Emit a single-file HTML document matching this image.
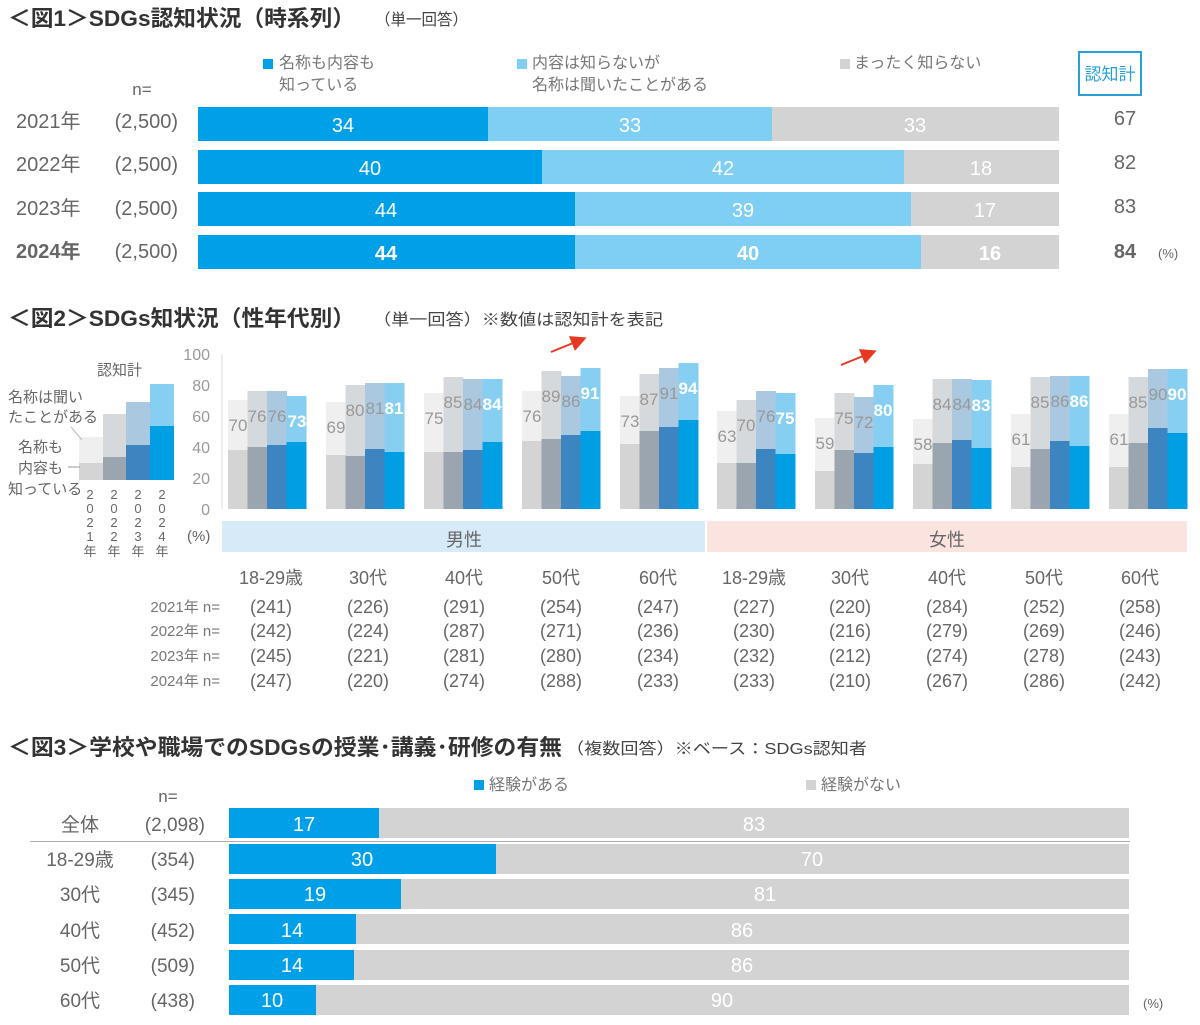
<!DOCTYPE html>
<html><head><meta charset="utf-8"><style>
html,body{margin:0;padding:0;background:#fff;}
svg{display:block;font-family:"Liberation Sans","Noto Sans CJK JP",sans-serif;}
</style></head><body>
<svg width="1200" height="1025" viewBox="0 0 1200 1025" xmlns="http://www.w3.org/2000/svg">
<defs><marker id="ar" markerWidth="8" markerHeight="8" refX="6" refY="4" orient="auto"><path d="M0,0 L8,4 L0,8 z" fill="#e8381f"/></marker></defs>
<!-- Fig 1 -->
<text x="8" y="26" font-size="22" font-weight="bold" fill="#333" textLength="347" lengthAdjust="spacingAndGlyphs">＜図1＞SDGs認知状況（時系列）</text>
<text x="375" y="25" font-size="16" fill="#444" textLength="93" lengthAdjust="spacingAndGlyphs">（単一回答）</text>
<rect x="263" y="59" width="10" height="10" fill="#00a0e9"/>
<text x="279" y="68" font-size="16" fill="#777">名称も内容も</text><text x="279" y="90" font-size="16" fill="#777">知っている</text>
<rect x="517" y="59" width="10" height="10" fill="#7fcef4"/>
<text x="532" y="68" font-size="16" fill="#777">内容は知らないが</text><text x="532" y="90" font-size="16" fill="#777">名称は聞いたことがある</text>
<rect x="840" y="59" width="10" height="10" fill="#d3d3d3"/>
<text x="854" y="68" font-size="16" fill="#777">まったく知らない</text>
<rect x="1079" y="52" width="62" height="43" fill="none" stroke="#29a0d8" stroke-width="2"/>
<text x="1110" y="80" font-size="17" fill="#29a0d8" text-anchor="middle">認知計</text>
<text x="142" y="95" font-size="17" fill="#666" text-anchor="middle">n=</text>
<g font-size="20" fill="#666">
<text x="16" y="128">2021年</text><text x="178" y="128" text-anchor="end">(2,500)</text>
<text x="16" y="171">2022年</text><text x="178" y="171" text-anchor="end">(2,500)</text>
<text x="16" y="215">2023年</text><text x="178" y="215" text-anchor="end">(2,500)</text>
<text x="16" y="258" font-weight="bold">2024年</text><text x="178" y="258" text-anchor="end">(2,500)</text>
</g>
<rect x="198" y="107" width="290" height="34" fill="#00a0e9"/><rect x="488" y="107" width="284" height="34" fill="#7fcef4"/><rect x="772" y="107" width="287" height="34" fill="#d3d3d3"/>
<rect x="198" y="150" width="344" height="34" fill="#00a0e9"/><rect x="542" y="150" width="362" height="34" fill="#7fcef4"/><rect x="904" y="150" width="155" height="34" fill="#d3d3d3"/>
<rect x="198" y="192" width="377" height="34" fill="#00a0e9"/><rect x="575" y="192" width="336" height="34" fill="#7fcef4"/><rect x="911" y="192" width="148" height="34" fill="#d3d3d3"/>
<rect x="198" y="235" width="377" height="34" fill="#00a0e9"/><rect x="575" y="235" width="346" height="34" fill="#7fcef4"/><rect x="921" y="235" width="138" height="34" fill="#d3d3d3"/>
<g font-size="20" fill="#fff" text-anchor="middle">
<text x="343" y="132">34</text><text x="630" y="132">33</text><text x="915" y="132">33</text>
<text x="370" y="175">40</text><text x="723" y="175">42</text><text x="981" y="175">18</text>
<text x="386" y="217">44</text><text x="743" y="217">39</text><text x="985" y="217">17</text>
<g font-weight="bold"><text x="386" y="260">44</text><text x="748" y="260">40</text><text x="990" y="260">16</text></g>
</g>
<g font-size="20" fill="#666" text-anchor="middle">
<text x="1125" y="125">67</text><text x="1125" y="169">82</text><text x="1125" y="213">83</text><text x="1125" y="258" font-weight="bold">84</text>
</g>
<text x="1158" y="258" font-size="13" fill="#666">(%)</text>

<!-- Fig 2 -->
<text x="8" y="326" font-size="22" font-weight="bold" fill="#333" textLength="347" lengthAdjust="spacingAndGlyphs">＜図2＞SDGs知状況（性年代別）</text>
<text x="373" y="325" font-size="16" fill="#444" textLength="290" lengthAdjust="spacingAndGlyphs">（単一回答）※数値は認知計を表記</text>
<line x1="551" y1="352" x2="583" y2="339" stroke="#e8381f" stroke-width="2" marker-end="url(#ar)"/>
<line x1="841" y1="365" x2="873" y2="352" stroke="#e8381f" stroke-width="2" marker-end="url(#ar)"/>
<g font-size="16" fill="#999" text-anchor="end">
<text x="210" y="360">100</text><text x="210" y="391">80</text><text x="210" y="422">60</text><text x="210" y="453">40</text><text x="210" y="484">20</text><text x="210" y="515">0</text>
</g>
<line x1="222" y1="354" x2="222" y2="509" stroke="#ddd"/>
<text x="187" y="541" font-size="15" fill="#666">(%)</text>
<!-- mini legend -->
<rect x="79" y="437" width="24" height="43" fill="#efefef"/><rect x="79" y="463" width="24" height="17" fill="#d4d4d4"/>
<rect x="103" y="414" width="23" height="66" fill="#d6d9dc"/><rect x="103" y="457" width="23" height="23" fill="#9aa5b0"/>
<rect x="126" y="402" width="24" height="78" fill="#aac8e0"/><rect x="126" y="445" width="24" height="35" fill="#3d85c0"/>
<rect x="150" y="384" width="24" height="96" fill="#86cff3"/><rect x="150" y="426" width="24" height="54" fill="#009fe3"/>
<g font-size="15" fill="#666">
<text x="97" y="375">認知計</text>
<text x="8" y="402">名称は聞い</text><text x="8" y="422">たことがある</text>
<text x="18" y="452">名称も</text><text x="18" y="473">内容も</text><text x="8" y="494">知っている</text>
</g>
<line x1="68" y1="467" x2="80" y2="467" stroke="#999"/>
<line x1="71" y1="427" x2="82" y2="440" stroke="#bbb"/>
<g font-size="13" fill="#666" text-anchor="middle">
<text x="90" y="499">2</text><text x="90" y="513">0</text><text x="90" y="527">2</text><text x="90" y="541">1</text><text x="90" y="556">年</text>
<text x="114" y="499">2</text><text x="114" y="513">0</text><text x="114" y="527">2</text><text x="114" y="541">2</text><text x="114" y="556">年</text>
<text x="138" y="499">2</text><text x="138" y="513">0</text><text x="138" y="527">2</text><text x="138" y="541">3</text><text x="138" y="556">年</text>
<text x="162" y="499">2</text><text x="162" y="513">0</text><text x="162" y="527">2</text><text x="162" y="541">4</text><text x="162" y="556">年</text>
</g>
<g>
<rect x="228" y="400" width="20" height="109" fill="#efefef"/><rect x="228" y="450" width="20" height="59" fill="#d4d4d4"/>
<rect x="247.5" y="391" width="20" height="118" fill="#d6d9dc"/><rect x="247.5" y="447" width="20" height="62" fill="#9aa5b0"/>
<rect x="267" y="391" width="20" height="118" fill="#aac8e0"/><rect x="267" y="445" width="20" height="64" fill="#3d85c0"/>
<rect x="286.5" y="396" width="20" height="113" fill="#86cff3"/><rect x="286.5" y="442" width="20" height="67" fill="#009fe3"/>
<rect x="326" y="402" width="20" height="107" fill="#efefef"/><rect x="326" y="455" width="20" height="54" fill="#d4d4d4"/>
<rect x="345.5" y="385" width="20" height="124" fill="#d6d9dc"/><rect x="345.5" y="456" width="20" height="53" fill="#9aa5b0"/>
<rect x="365" y="383" width="20" height="126" fill="#aac8e0"/><rect x="365" y="449" width="20" height="60" fill="#3d85c0"/>
<rect x="384.5" y="383" width="20" height="126" fill="#86cff3"/><rect x="384.5" y="452" width="20" height="57" fill="#009fe3"/>
<rect x="424" y="393" width="20" height="116" fill="#efefef"/><rect x="424" y="452" width="20" height="57" fill="#d4d4d4"/>
<rect x="443.5" y="377" width="20" height="132" fill="#d6d9dc"/><rect x="443.5" y="452" width="20" height="57" fill="#9aa5b0"/>
<rect x="463" y="379" width="20" height="130" fill="#aac8e0"/><rect x="463" y="450" width="20" height="59" fill="#3d85c0"/>
<rect x="482.5" y="379" width="20" height="130" fill="#86cff3"/><rect x="482.5" y="442" width="20" height="67" fill="#009fe3"/>
<rect x="522" y="391" width="20" height="118" fill="#efefef"/><rect x="522" y="441" width="20" height="68" fill="#d4d4d4"/>
<rect x="541.5" y="371" width="20" height="138" fill="#d6d9dc"/><rect x="541.5" y="439" width="20" height="70" fill="#9aa5b0"/>
<rect x="561" y="376" width="20" height="133" fill="#aac8e0"/><rect x="561" y="435" width="20" height="74" fill="#3d85c0"/>
<rect x="580.5" y="368" width="20" height="141" fill="#86cff3"/><rect x="580.5" y="431" width="20" height="78" fill="#009fe3"/>
<rect x="620" y="396" width="20" height="113" fill="#efefef"/><rect x="620" y="444" width="20" height="65" fill="#d4d4d4"/>
<rect x="639.5" y="374" width="20" height="135" fill="#d6d9dc"/><rect x="639.5" y="431" width="20" height="78" fill="#9aa5b0"/>
<rect x="659" y="368" width="20" height="141" fill="#aac8e0"/><rect x="659" y="427" width="20" height="82" fill="#3d85c0"/>
<rect x="678.5" y="363" width="20" height="146" fill="#86cff3"/><rect x="678.5" y="420" width="20" height="89" fill="#009fe3"/>
<rect x="717" y="411" width="20" height="98" fill="#efefef"/><rect x="717" y="463" width="20" height="46" fill="#d4d4d4"/>
<rect x="736.5" y="400" width="20" height="109" fill="#d6d9dc"/><rect x="736.5" y="463" width="20" height="46" fill="#9aa5b0"/>
<rect x="756" y="391" width="20" height="118" fill="#aac8e0"/><rect x="756" y="449" width="20" height="60" fill="#3d85c0"/>
<rect x="775.5" y="393" width="20" height="116" fill="#86cff3"/><rect x="775.5" y="454" width="20" height="55" fill="#009fe3"/>
<rect x="815" y="418" width="20" height="91" fill="#efefef"/><rect x="815" y="471" width="20" height="38" fill="#d4d4d4"/>
<rect x="834.5" y="393" width="20" height="116" fill="#d6d9dc"/><rect x="834.5" y="450" width="20" height="59" fill="#9aa5b0"/>
<rect x="854" y="397" width="20" height="112" fill="#aac8e0"/><rect x="854" y="453" width="20" height="56" fill="#3d85c0"/>
<rect x="873.5" y="385" width="20" height="124" fill="#86cff3"/><rect x="873.5" y="447" width="20" height="62" fill="#009fe3"/>
<rect x="913" y="419" width="20" height="90" fill="#efefef"/><rect x="913" y="464" width="20" height="45" fill="#d4d4d4"/>
<rect x="932.5" y="379" width="20" height="130" fill="#d6d9dc"/><rect x="932.5" y="443" width="20" height="66" fill="#9aa5b0"/>
<rect x="952" y="379" width="20" height="130" fill="#aac8e0"/><rect x="952" y="440" width="20" height="69" fill="#3d85c0"/>
<rect x="971.5" y="380" width="20" height="129" fill="#86cff3"/><rect x="971.5" y="448" width="20" height="61" fill="#009fe3"/>
<rect x="1011" y="414" width="20" height="95" fill="#efefef"/><rect x="1011" y="467" width="20" height="42" fill="#d4d4d4"/>
<rect x="1030.5" y="377" width="20" height="132" fill="#d6d9dc"/><rect x="1030.5" y="449" width="20" height="60" fill="#9aa5b0"/>
<rect x="1050" y="376" width="20" height="133" fill="#aac8e0"/><rect x="1050" y="441" width="20" height="68" fill="#3d85c0"/>
<rect x="1069.5" y="376" width="20" height="133" fill="#86cff3"/><rect x="1069.5" y="446" width="20" height="63" fill="#009fe3"/>
<rect x="1109" y="414" width="20" height="95" fill="#efefef"/><rect x="1109" y="467" width="20" height="42" fill="#d4d4d4"/>
<rect x="1128.5" y="377" width="20" height="132" fill="#d6d9dc"/><rect x="1128.5" y="443" width="20" height="66" fill="#9aa5b0"/>
<rect x="1148" y="369" width="20" height="140" fill="#aac8e0"/><rect x="1148" y="428" width="20" height="81" fill="#3d85c0"/>
<rect x="1167.5" y="369" width="20" height="140" fill="#86cff3"/><rect x="1167.5" y="433" width="20" height="76" fill="#009fe3"/>
</g>
<g font-size="17" fill="#999" text-anchor="middle">
<text x="238" y="431">70</text><text x="257" y="422">76</text><text x="277" y="422">76</text>
<text x="336" y="433">69</text><text x="355" y="416">80</text><text x="375" y="414">81</text>
<text x="434" y="424">75</text><text x="453" y="408">85</text><text x="473" y="410">84</text>
<text x="532" y="422">76</text><text x="551" y="402">89</text><text x="571" y="407">86</text>
<text x="630" y="427">73</text><text x="649" y="405">87</text><text x="669" y="399">91</text>
<text x="727" y="442">63</text><text x="746" y="431">70</text><text x="766" y="422">76</text>
<text x="825" y="449">59</text><text x="844" y="424">75</text><text x="864" y="428">72</text>
<text x="923" y="450">58</text><text x="942" y="410">84</text><text x="962" y="410">84</text>
<text x="1021" y="445">61</text><text x="1040" y="408">85</text><text x="1060" y="407">86</text>
<text x="1119" y="445">61</text><text x="1138" y="408">85</text><text x="1158" y="400">90</text>
</g>
<g font-size="17" fill="#fff" font-weight="bold" text-anchor="middle">
<text x="297" y="427">73</text><text x="394" y="414">81</text><text x="492" y="410">84</text><text x="590" y="399">91</text><text x="688" y="394">94</text>
<text x="785" y="424">75</text><text x="883" y="416">80</text><text x="981" y="411">83</text><text x="1079" y="407">86</text><text x="1177" y="400">90</text>
</g>
<rect x="222" y="521" width="483" height="31" fill="#d6eaf8"/>
<rect x="707" y="521" width="480" height="31" fill="#fbe4df"/>
<text x="464" y="546" font-size="18" fill="#666" text-anchor="middle">男性</text>
<text x="947" y="546" font-size="18" fill="#666" text-anchor="middle">女性</text>
<g font-size="18" fill="#666" text-anchor="middle">
<text x="271" y="584">18-29歳</text><text x="368" y="584">30代</text><text x="464" y="584">40代</text><text x="561" y="584">50代</text><text x="658" y="584">60代</text>
<text x="754" y="584">18-29歳</text><text x="850" y="584">30代</text><text x="947" y="584">40代</text><text x="1044" y="584">50代</text><text x="1140" y="584">60代</text>
</g>
<g font-size="15" fill="#777" text-anchor="end">
<text x="220" y="612">2021年 n=</text><text x="220" y="636">2022年 n=</text><text x="220" y="661">2023年 n=</text><text x="220" y="686">2024年 n=</text>
</g>
<g font-size="18" fill="#666" text-anchor="middle">
<text x="271" y="613">(241)</text><text x="368" y="613">(226)</text><text x="464" y="613">(291)</text><text x="561" y="613">(254)</text><text x="658" y="613">(247)</text><text x="754" y="613">(227)</text><text x="850" y="613">(220)</text><text x="947" y="613">(284)</text><text x="1044" y="613">(252)</text><text x="1140" y="613">(258)</text>
<text x="271" y="637">(242)</text><text x="368" y="637">(224)</text><text x="464" y="637">(287)</text><text x="561" y="637">(271)</text><text x="658" y="637">(236)</text><text x="754" y="637">(230)</text><text x="850" y="637">(216)</text><text x="947" y="637">(279)</text><text x="1044" y="637">(269)</text><text x="1140" y="637">(246)</text>
<text x="271" y="662">(245)</text><text x="368" y="662">(221)</text><text x="464" y="662">(281)</text><text x="561" y="662">(280)</text><text x="658" y="662">(234)</text><text x="754" y="662">(232)</text><text x="850" y="662">(212)</text><text x="947" y="662">(274)</text><text x="1044" y="662">(278)</text><text x="1140" y="662">(243)</text>
<text x="271" y="687">(247)</text><text x="368" y="687">(220)</text><text x="464" y="687">(274)</text><text x="561" y="687">(288)</text><text x="658" y="687">(233)</text><text x="754" y="687">(233)</text><text x="850" y="687">(210)</text><text x="947" y="687">(267)</text><text x="1044" y="687">(286)</text><text x="1140" y="687">(242)</text>
</g>

<!-- Fig 3 -->
<text x="8" y="755" font-size="22" font-weight="bold" fill="#333" textLength="554" lengthAdjust="spacingAndGlyphs">＜図3＞学校や職場でのSDGsの授業･講義･研修の有無</text>
<text x="566" y="754" font-size="16" fill="#444" textLength="301" lengthAdjust="spacingAndGlyphs">（複数回答）※ベース：SDGs認知者</text>
<rect x="474" y="780" width="10" height="10" fill="#00a0e9"/><text x="489" y="790" font-size="16" fill="#777">経験がある</text>
<rect x="806" y="780" width="10" height="10" fill="#d3d3d3"/><text x="821" y="790" font-size="16" fill="#777">経験がない</text>
<text x="168" y="802" font-size="17" fill="#666" text-anchor="middle">n=</text>
<g font-size="19" fill="#666">
<text x="80" y="831" text-anchor="middle">全体</text><text x="205" y="831" text-anchor="end">(2,098)</text>
<text x="80" y="866" text-anchor="middle">18-29歳</text><text x="195" y="866" text-anchor="end">(354)</text>
<text x="80" y="901" text-anchor="middle">30代</text><text x="195" y="901" text-anchor="end">(345)</text>
<text x="80" y="937" text-anchor="middle">40代</text><text x="195" y="937" text-anchor="end">(452)</text>
<text x="80" y="972" text-anchor="middle">50代</text><text x="195" y="972" text-anchor="end">(509)</text>
<text x="80" y="1007" text-anchor="middle">60代</text><text x="195" y="1007" text-anchor="end">(438)</text>
</g>
<line x1="30" y1="841.5" x2="1130" y2="841.5" stroke="#aaa"/>
<rect x="229" y="808" width="150" height="30" fill="#00a0e9"/><rect x="379" y="808" width="750" height="30" fill="#d3d3d3"/>
<rect x="229" y="844" width="267" height="30" fill="#00a0e9"/><rect x="496" y="844" width="633" height="30" fill="#d3d3d3"/>
<rect x="229" y="879" width="172" height="30" fill="#00a0e9"/><rect x="401" y="879" width="728" height="30" fill="#d3d3d3"/>
<rect x="229" y="914" width="127" height="30" fill="#00a0e9"/><rect x="356" y="914" width="773" height="30" fill="#d3d3d3"/>
<rect x="229" y="950" width="125" height="30" fill="#00a0e9"/><rect x="354" y="950" width="775" height="30" fill="#d3d3d3"/>
<rect x="229" y="985" width="87" height="30" fill="#00a0e9"/><rect x="316" y="985" width="813" height="30" fill="#d3d3d3"/>
<g font-size="20" fill="#fff" text-anchor="middle">
<text x="304" y="831">17</text><text x="754" y="831">83</text>
<text x="362" y="866">30</text><text x="812" y="866">70</text>
<text x="315" y="901">19</text><text x="765" y="901">81</text>
<text x="292" y="937">14</text><text x="742" y="937">86</text>
<text x="292" y="972">14</text><text x="742" y="972">86</text>
<text x="272" y="1007">10</text><text x="722" y="1007">90</text>
</g>
<text x="1143" y="1008" font-size="13" fill="#666">(%)</text>
</svg>
</body></html>
